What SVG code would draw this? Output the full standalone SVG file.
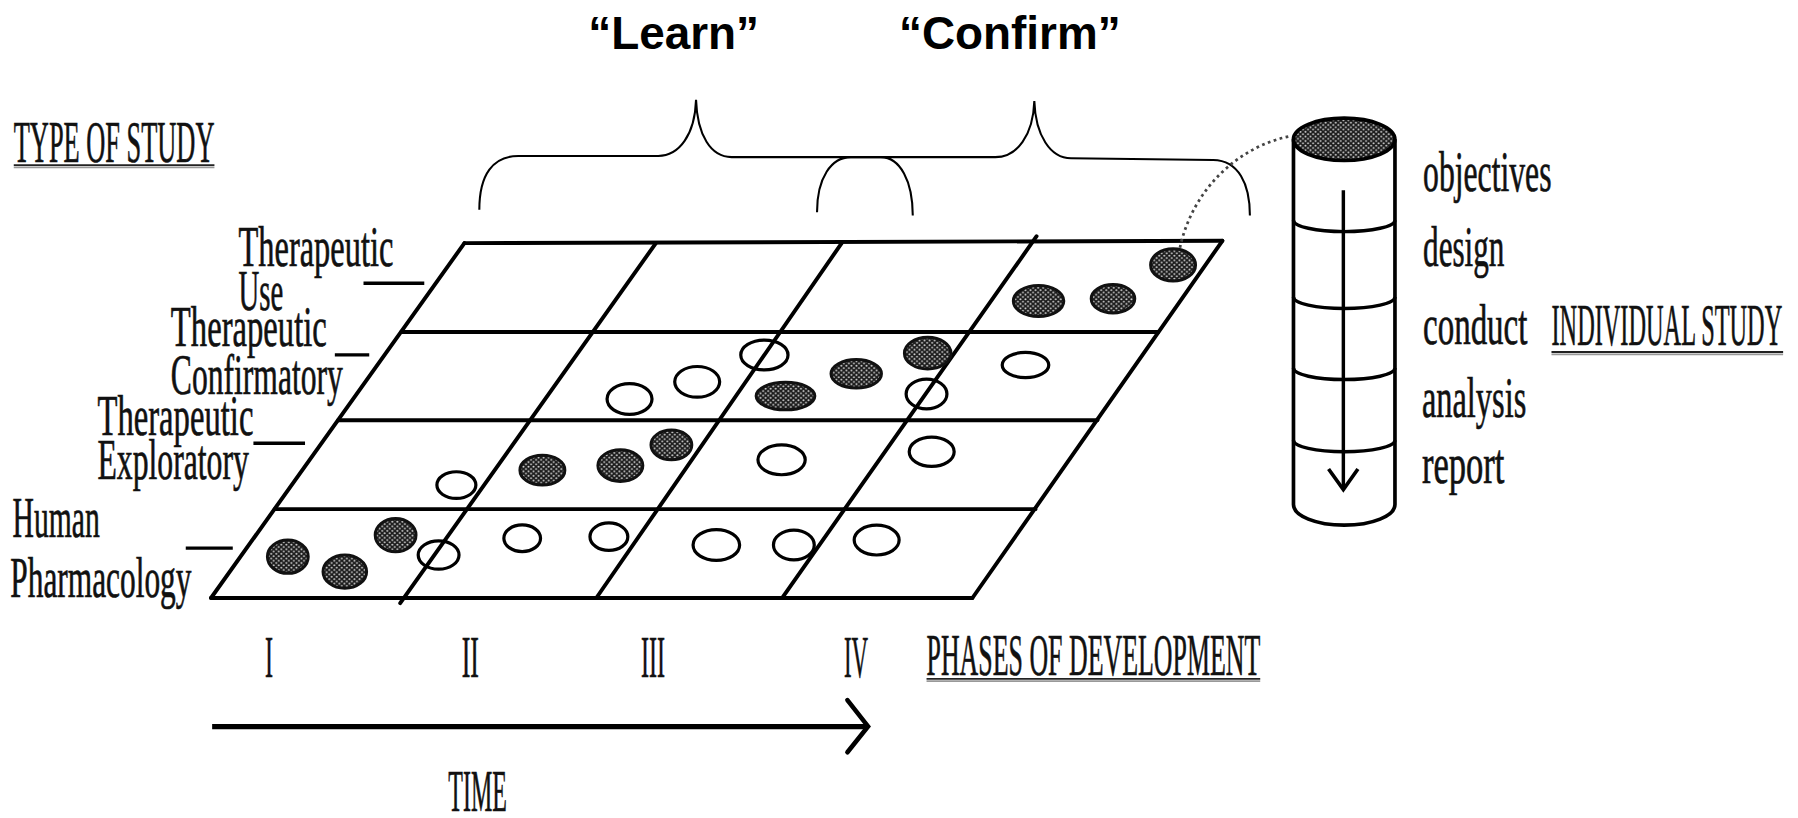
<svg xmlns="http://www.w3.org/2000/svg" width="1798" height="818" viewBox="0 0 1798 818">
<defs>
<style>
.ln{stroke:#000;stroke-width:3.4;fill:none;stroke-linecap:round}
.br{stroke:#000;stroke-width:1.8;fill:none}
.lbl{font-family:"Liberation Serif","DejaVu Serif",serif;font-size:49px;fill:#111;stroke:#111;stroke-width:0.6}
.cap{font-family:"Liberation Serif","DejaVu Serif",serif;font-size:51px;fill:#111;stroke:#111;stroke-width:0.6}
.big{font-family:"Liberation Sans",Arial,sans-serif;font-weight:bold;font-size:40px;fill:#000}
.op{fill:none;stroke:#000;stroke-width:2.8}
.fl{fill:url(#dots);stroke:#111;stroke-width:2.6}
.ul{stroke:#222;stroke-width:1.6}
.ulg{stroke:#999;stroke-width:1.6}
.dash{stroke:#000;stroke-width:3}
</style>
<pattern id="dots" patternUnits="userSpaceOnUse" width="4.4" height="4">
<rect width="4.4" height="4" fill="#1c1c1c"/>
<circle cx="1.1" cy="1" r="0.85" fill="#d4d4d4"/>
<circle cx="3.3" cy="3" r="0.85" fill="#d4d4d4"/>
</pattern>
</defs>
<rect width="1798" height="818" fill="#fff"/>
<g transform="scale(1.1467)">
<g id="title-learn"><text class="big" x="513" y="43">“Learn”</text></g>
<g id="title-confirm"><text class="big" x="784" y="43">“Confirm”</text></g>
<g id="braces">
<path class="br" d="M418,183 C418,152 430,136 452,136 L574,136 C592,136 606,118 607,87 C608,118 620,137 638,137 L868,137 C887,137 901,118 902,88 C903,118 916,138 934,138 L1058,139.5 C1080,140 1090,160 1090,188"/>
<path class="br" d="M712.5,185 C712.5,155 725,137 742,137 L768,137 C785,137 796,158 796,188"/>
</g>
<g id="type-of-study"><text class="cap" x="12" y="141" textLength="175" lengthAdjust="spacingAndGlyphs">TYPE OF STUDY</text>
<line class="ulg" x1="12" y1="146" x2="187" y2="146"/><line class="ul" x1="12" y1="144" x2="187" y2="144"/></g>
<g id="grid">
<line class="ln" x1="405" y1="212" x2="1066" y2="210"/>
<line class="ln" x1="350" y1="289.5" x2="1010" y2="289.5"/>
<line class="ln" x1="295" y1="366.5" x2="957" y2="366.5"/>
<line class="ln" x1="239.5" y1="444" x2="903" y2="444"/>
<line class="ln" x1="184" y1="521.5" x2="848" y2="521.5"/>
<line class="ln" x1="405" y1="212" x2="184" y2="521.5"/>
<line class="ln" x1="572" y1="212" x2="349" y2="526"/>
<line class="ln" x1="734" y1="212" x2="520" y2="521.5"/>
<line class="ln" x1="904" y1="206" x2="682" y2="521.5"/>
<line class="ln" x1="1066" y1="210" x2="848" y2="521.5"/>
</g>
<g id="label-use"><text class="lbl" x="208" y="232" textLength="135" lengthAdjust="spacingAndGlyphs">Therapeutic</text><text class="lbl" x="208" y="270" textLength="39" lengthAdjust="spacingAndGlyphs">Use</text><line class="dash" x1="317" y1="247" x2="370" y2="247"/></g>
<g id="label-confirmatory"><text class="lbl" x="149" y="302" textLength="136" lengthAdjust="spacingAndGlyphs">Therapeutic</text><text class="lbl" x="149" y="344" textLength="150" lengthAdjust="spacingAndGlyphs">Confirmatory</text><line class="dash" x1="292" y1="309.5" x2="322" y2="309.5"/></g>
<g id="label-exploratory"><text class="lbl" x="85" y="379" textLength="136" lengthAdjust="spacingAndGlyphs">Therapeutic</text><text class="lbl" x="85" y="418" textLength="132" lengthAdjust="spacingAndGlyphs">Exploratory</text><line class="dash" x1="221" y1="386.5" x2="266" y2="386.5"/></g>
<g id="label-human"><text class="lbl" x="11" y="468" textLength="76" lengthAdjust="spacingAndGlyphs">Human</text><text class="lbl" x="9" y="521" textLength="158" lengthAdjust="spacingAndGlyphs">Pharmacology</text><line class="dash" x1="162" y1="478" x2="203" y2="478"/></g>
<g id="studies">
<ellipse class="fl" cx="905.7" cy="262.5" rx="22" ry="13.5"/>
<ellipse class="fl" cx="970.6" cy="260.5" rx="19" ry="12.4"/>
<ellipse class="fl" cx="1023" cy="231" rx="19.6" ry="14"/>
<ellipse class="op" cx="549" cy="348" rx="19.6" ry="13.4"/>
<ellipse class="op" cx="608" cy="333" rx="19.6" ry="13.4"/>
<ellipse class="op" cx="666.6" cy="309.6" rx="20.6" ry="13"/>
<ellipse class="fl" cx="685" cy="345.4" rx="25.6" ry="12"/>
<ellipse class="fl" cx="746.7" cy="326" rx="22" ry="12.4"/>
<ellipse class="fl" cx="809" cy="308" rx="20.3" ry="13.8"/>
<ellipse class="op" cx="808" cy="343.6" rx="17.8" ry="13"/>
<ellipse class="op" cx="894.3" cy="318.3" rx="20.3" ry="11"/>
<ellipse class="op" cx="398" cy="423" rx="17" ry="11.6"/>
<ellipse class="fl" cx="473" cy="410" rx="19.6" ry="13"/>
<ellipse class="fl" cx="541" cy="406" rx="19.6" ry="13.8"/>
<ellipse class="fl" cx="585.5" cy="388" rx="17.8" ry="13"/>
<ellipse class="op" cx="681.6" cy="401" rx="20.6" ry="13"/>
<ellipse class="op" cx="812.5" cy="394" rx="19.6" ry="12.8"/>
<ellipse class="fl" cx="251" cy="485.5" rx="17.8" ry="14.5"/>
<ellipse class="fl" cx="300.7" cy="498.5" rx="19" ry="14.5"/>
<ellipse class="fl" cx="345" cy="466.6" rx="17.8" ry="14.5"/>
<ellipse class="op" cx="382.5" cy="484" rx="17.8" ry="12.4"/>
<ellipse class="op" cx="455.4" cy="469.4" rx="16" ry="11.6"/>
<ellipse class="op" cx="531" cy="468" rx="16.5" ry="12"/>
<ellipse class="op" cx="624.7" cy="475.3" rx="20.3" ry="13.4"/>
<ellipse class="op" cx="692.3" cy="475.3" rx="17.8" ry="13"/>
<ellipse class="op" cx="764.5" cy="471" rx="19.6" ry="13"/>
</g>
<g id="connectors">
<path d="M1029,216 C1040,165 1080,128 1124,119" fill="none" stroke="#444" stroke-width="2.4" stroke-dasharray="2.4 3"/>
<line x1="185" y1="633.7" x2="755" y2="633.7" stroke="#000" stroke-width="4.5"/>
<polyline points="739,610.5 757,633.5 739,656" fill="none" stroke="#000" stroke-width="4" stroke-linecap="round" stroke-linejoin="miter"/>
</g>
<g id="cylinder">
<path d="M1128,121.5 L1128,440 A44.25,18 0 0 0 1216.5,440 L1216.5,121.5" fill="#fff" stroke="#000" stroke-width="3.2"/>
<path d="M1128,192 A44.25,10 0 0 0 1216.5,192" fill="none" stroke="#000" stroke-width="3"/>
<path d="M1128,259 A44.25,10 0 0 0 1216.5,259" fill="none" stroke="#000" stroke-width="3"/>
<path d="M1128,321 A44.25,10 0 0 0 1216.5,321" fill="none" stroke="#000" stroke-width="3"/>
<path d="M1128,384 A44.25,10 0 0 0 1216.5,384" fill="none" stroke="#000" stroke-width="3"/>
<ellipse cx="1172.2" cy="121.5" rx="44.25" ry="18.5" fill="url(#dots)" stroke="#000" stroke-width="3.2"/>
<line x1="1171.5" y1="166" x2="1171.5" y2="426" stroke="#000" stroke-width="3"/>
<polyline points="1158.6,409 1171.5,427 1184.2,409" fill="none" stroke="#000" stroke-width="3.2"/>
</g>
<g id="steps">
<text class="lbl" x="1241" y="167" textLength="112" lengthAdjust="spacingAndGlyphs">objectives</text>
<text class="lbl" x="1241" y="232" textLength="71" lengthAdjust="spacingAndGlyphs">design</text>
<text class="lbl" x="1241" y="300" textLength="91" lengthAdjust="spacingAndGlyphs">conduct</text>
<text class="lbl" x="1240" y="364" textLength="91" lengthAdjust="spacingAndGlyphs">analysis</text>
<text class="lbl" x="1240" y="421" textLength="72" lengthAdjust="spacingAndGlyphs">report</text>
</g>
<g id="individual-study"><text class="cap" transform="translate(1353,301) scale(0.416,1)" x="0" y="0">INDIVIDUAL STUDY</text>
<line class="ulg" x1="1353" y1="309" x2="1555" y2="309"/><line class="ul" x1="1353" y1="307" x2="1555" y2="307"/></g>
<g id="phases">
<text class="cap" x="231" y="590" textLength="7" lengthAdjust="spacingAndGlyphs">I</text>
<text class="cap" x="402.6" y="590" textLength="15" lengthAdjust="spacingAndGlyphs">II</text>
<text class="cap" x="559" y="590" textLength="21" lengthAdjust="spacingAndGlyphs">III</text>
<text class="cap" x="736" y="590" textLength="21" lengthAdjust="spacingAndGlyphs">IV</text>
<text class="cap" x="808" y="589" textLength="291" lengthAdjust="spacingAndGlyphs">PHASES OF DEVELOPMENT</text>
<line class="ulg" x1="808" y1="594" x2="1099" y2="594"/><line class="ul" x1="808" y1="592" x2="1099" y2="592"/>
</g>
<g id="time"><text class="cap" x="391" y="707" textLength="51" lengthAdjust="spacingAndGlyphs">TIME</text></g>
</g>
</svg>
